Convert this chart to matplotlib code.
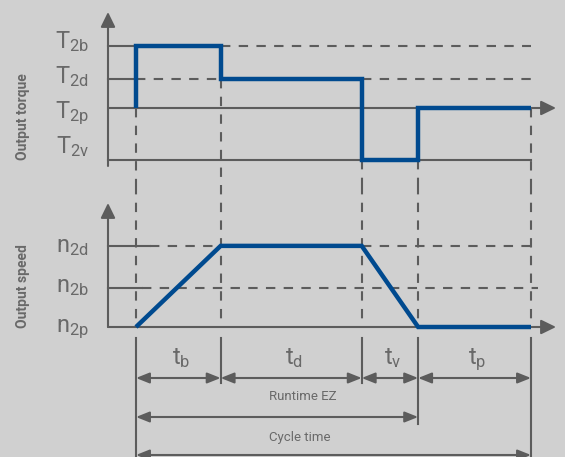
import numpy as np
import matplotlib.pyplot as plt

plt.rcParams['font.family'] = ['Roboto', 'DejaVu Sans']
plt.rcParams['mathtext.fontset'] = 'custom'
plt.rcParams['mathtext.rm'] = 'Roboto'
plt.rcParams['mathtext.it'] = 'Roboto'
plt.rcParams['mathtext.default'] = 'rm'

# phases of one cycle: t_b, t_d, t_v, t_p (relative durations)
phase_names = ['b', 'd', 'v', 'p']
durations = [1.5, 2.5, 1.0, 2.0]

# output torque levels (T2p = 0)
torque_names = ['2b', '2d', '2p', '2v']
torque_levels = [2.15, 1.0, 0.0, -1.8]
torque_per_phase = [2.15, 1.0, -1.8, 0.0]

# output speed levels (n2p = 0)
speed_names = ['2d', '2b', '2p']
speed_levels = [2.08, 1.0, 0.0]
speed_at_edges = [0.0, 2.08, 2.08, 0.0, 0.0]

BG = '#d0d0d0'
GRAY = '#5c5c5c'
TXT = '#696969'
BLUE = '#004a8f'
DASH = (0, (4.5, 4))
LW = 1.5

W, H = 565, 457
edges = np.concatenate([[0], np.cumsum(durations)])
t_end = edges[-1]

# horizontal mapping: t=0 sits at px 136, t_end at px 531
ppt = (531 - 136) / t_end


def px2t(px):
    return (px - 136) / ppt


xlim = (px2t(0), px2t(W))
t_axis = px2t(108)
t_arrow = px2t(556)

fig = plt.figure(figsize=(W / 100, H / 100), dpi=100, facecolor=BG)


def panel(top_px, bot_px, zero_px, unit_px):
    ax = fig.add_axes([0, 1 - bot_px / H, 1, (bot_px - top_px) / H])
    ax.set_xlim(xlim)
    ax.set_ylim((zero_px - bot_px) / unit_px, (zero_px - top_px) / unit_px)
    ax.axis('off')
    ax.patch.set_alpha(0)
    return ax, (lambda px: (zero_px - px) / unit_px)


def arrow(ax, p0, p1, both=False, hl=0.45, hw=0.22, lw=LW):
    style = ('<|-|>' if both else '-|>') + f',head_length={hl},head_width={hw}'
    ax.annotate('', xy=p1, xytext=p0,
                arrowprops=dict(arrowstyle=style, color=GRAY, lw=lw,
                                shrinkA=0, shrinkB=0, mutation_scale=20))


# ---------------- torque ----------------
ax1, y1 = panel(0, 185, 108, 29)
T = dict(zip(torque_names, torque_levels))

arrow(ax1, (t_axis, y1(166)), (t_axis, y1(12)))
arrow(ax1, (t_axis, T['2p']), (t_arrow, T['2p']))
ax1.plot([t_axis, t_end], [T['2v']] * 2, color=GRAY, lw=LW)
ax1.plot([t_axis, 0], [T['2b']] * 2, color=GRAY, lw=LW)
ax1.plot([edges[1], t_end], [T['2b']] * 2, color=GRAY, lw=LW, ls=DASH)
ax1.plot([t_axis, 0], [T['2d']] * 2, color=GRAY, lw=LW)
ax1.plot([0, edges[1]], [T['2d']] * 2, color=GRAY, lw=LW, ls=DASH)
ax1.plot([edges[2], t_end], [T['2d']] * 2, color=GRAY, lw=LW, ls=DASH)

tq_before = [T['2p']] + torque_per_phase
tq_after = torque_per_phase + [T['2d']]
for t, a, b in zip(edges, tq_before, tq_after):
    ax1.plot([t, t], [min(a, b), ax1.get_ylim()[0]], color=GRAY, lw=LW,
             ls=DASH, clip_on=False)

ax1.plot(np.concatenate([[0], edges]), [T['2p']] + torque_per_phase + [torque_per_phase[-1]],
         drawstyle='steps-post', color=BLUE, lw=3.2, solid_joinstyle='miter',
         solid_capstyle='butt', zorder=5)

for name, base_px in zip(torque_names, [48, 83, 118, 153]):
    ax1.text(px2t(89), y1(base_px), f'T$_{{{name}}}$', ha='right', va='baseline',
             fontsize=17, color=TXT)
ax1.text(px2t(23), y1(117), 'Output torque', rotation=90, ha='center', va='center',
         fontsize=10, fontweight='bold', color=TXT)

# ---------------- speed ----------------
ax2, y2 = panel(185, 333, 327, 39)
N = dict(zip(speed_names, speed_levels))

arrow(ax2, (t_axis, N['2p']), (t_axis, y2(203)))
arrow(ax2, (t_axis, N['2p']), (t_arrow, N['2p']))
ax2.plot([t_axis, px2t(150)], [N['2d']] * 2, color=GRAY, lw=LW)
ax2.plot([px2t(150), edges[1]], [N['2d']] * 2, color=GRAY, lw=LW, ls=DASH)
ax2.plot([edges[2], px2t(538)], [N['2d']] * 2, color=GRAY, lw=LW, ls=DASH)
ax2.plot([t_axis, px2t(142)], [N['2b']] * 2, color=GRAY, lw=LW)
ax2.plot([px2t(142), px2t(538)], [N['2b']] * 2, color=GRAY, lw=LW, ls=DASH)

for t in edges:
    ax2.plot([t, t], [ax2.get_ylim()[1], N['2p']], color=GRAY, lw=LW, ls=DASH)

ax2.plot(edges, speed_at_edges, color=BLUE, lw=3.2, solid_joinstyle='miter',
         solid_capstyle='butt', zorder=5)

for name, base_px in zip(speed_names, [252, 292, 332]):
    ax2.text(px2t(89), y2(base_px), f'n$_{{{name}}}$', ha='right', va='baseline',
             fontsize=17, color=TXT)
ax2.text(px2t(23), y2(286), 'Output speed', rotation=90, ha='center', va='center',
         fontsize=10, fontweight='bold', color=TXT)

# ---------------- time dimensions ----------------
ax3 = fig.add_axes([0, 0, 1, (H - 333) / H])
ax3.set_xlim(xlim)
ax3.set_ylim(H, 333)
ax3.axis('off')
ax3.patch.set_alpha(0)

for t, bottom in zip(edges, [H, 383, 383, 424, H]):
    ax3.plot([t, t], [338, bottom], color=GRAY, lw=LW, clip_on=False)

for i, name in enumerate(phase_names):
    arrow(ax3, (edges[i], 378), (edges[i + 1], 378), both=True, hl=0.4, hw=0.16)
    ax3.text((edges[i] + edges[i + 1]) / 2 + 0.05, 364, f't$_{{{name}}}$',
             ha='center', va='baseline', fontsize=17, color=TXT)

arrow(ax3, (edges[0], 417), (edges[3], 417), both=True, hl=0.4, hw=0.16)
ax3.text(px2t(303), 396, 'Runtime EZ', ha='center', va='center', fontsize=9.5, color=TXT)
arrow(ax3, (edges[0], 455), (edges[4], 455), both=True, hl=0.4, hw=0.16)
ax3.text(px2t(300), 437, 'Cycle time', ha='center', va='center', fontsize=9.5, color=TXT)

fig.savefig('out.png', dpi=100, facecolor=BG)
